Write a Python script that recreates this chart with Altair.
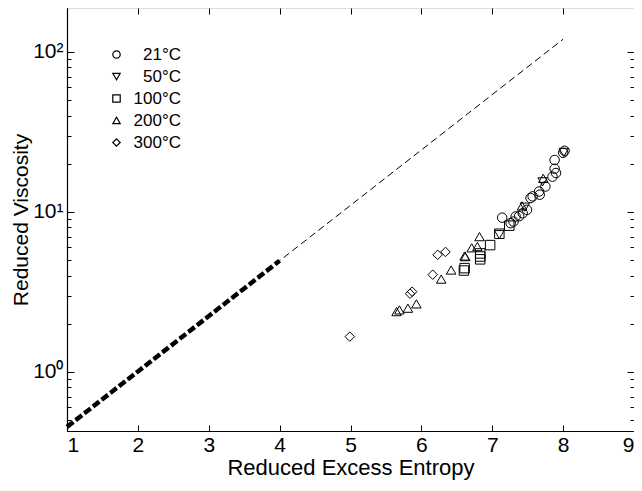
import altair as alt
import pandas as pd

# ---- data ----
c21_x = [7.14, 7.26, 7.30, 7.33, 7.38, 7.43, 7.49, 7.54, 7.57, 7.66, 7.67, 7.75, 7.85, 7.88, 7.90, 7.88, 8.00, 8.02]
c21_y = [9.2, 8.5, 8.7, 9.36, 9.4, 9.8, 10.3, 12.2, 12.5, 13.4, 12.8, 14.4, 16.6, 18.6, 17.5, 21.1, 23.4, 24.1]

c50_x = [7.10, 7.46, 7.71, 8.01]
c50_y = [7.2, 10.7, 15.4, 23.5]

c100_x = [6.60, 6.61, 6.83, 6.83, 6.83, 6.97, 7.10, 7.24]
c100_y = [4.3, 4.45, 5.05, 5.26, 5.5, 6.2, 7.3, 8.2]

c200_x = [5.65, 5.69, 5.81, 5.93, 6.28, 6.42, 6.61, 6.62, 6.71, 6.79, 6.82, 7.42, 7.72]
c200_y = [2.38, 2.44, 2.5, 2.66, 3.8, 4.33, 5.3, 5.25, 5.96, 6.07, 7.0, 10.9, 16.2]

c300_x = [4.99, 5.84, 5.87, 6.16, 6.23, 6.34]
c300_y = [1.66, 3.08, 3.17, 4.05, 5.39, 5.62]

series_names = ["21\u00b0C", "50\u00b0C", "100\u00b0C", "200\u00b0C", "300\u00b0C"]
series_shapes = ["circle", "triangle-down", "square", "triangle-up", "diamond"]

fit_x = [1, 8]
fit_y = [0.453, 120]
thick_x = [1, 4]
thick_y = [0.453, 4.95]

x_ticks = [1, 2, 3, 4, 5, 6, 7, 8, 9]
y_major = [1, 10, 100]
y_minor = [0.5, 0.6, 0.7, 0.8, 0.9, 2, 3, 4, 5, 6, 7, 8, 9, 20, 30, 40, 50, 60, 70, 80, 90]

# ---- tables ----
rows = []
for name, xs, ys in zip(series_names, [c21_x, c50_x, c100_x, c200_x, c300_x],
                        [c21_y, c50_y, c100_y, c200_y, c300_y]):
    for a, b in zip(xs, ys):
        rows.append({"x": a, "y": b, "T": name})
pts = pd.DataFrame(rows)
fit = pd.DataFrame({"x": fit_x, "y": fit_y})
thick = pd.DataFrame({"x": thick_x, "y": thick_y})

W, H = 567, 423
FONT = "Liberation Sans"
xs_ = alt.Scale(domain=[1, 9], nice=False, zero=False)
ys_ = alt.Scale(type="log", domain=[0.427, 188], nice=False)

common = dict(grid=False, tickColor="black", tickWidth=1)

# layer 1: thin dashed line, main labelled axes
l1 = alt.Chart(fit).mark_line(color="black", strokeWidth=1, strokeDash=[7, 4]).encode(
    x=alt.X("x:Q", scale=xs_, axis=alt.Axis(
        orient="bottom", values=x_ticks, ticks=False, labelFontSize=21, labelFont=FONT,
        labelColor="black", labelPadding=3, domainColor="black", domainWidth=1.2,
        title="Reduced Excess Entropy", titleFont=FONT, titleFontSize=22,
        titleFontWeight="normal", titleColor="black", titlePadding=2, grid=False)),
    y=alt.Y("y:Q", scale=ys_, axis=alt.Axis(
        orient="left", values=y_major, ticks=False, labelFontSize=21, labelFont=FONT,
        labelColor="black", labelPadding=4, domainColor="black", domainWidth=1.2,
        labelExpr="datum.value == 1 ? '10\u2070' : datum.value == 10 ? '10\u00b9' : '10\u00b2'",
        title="Reduced Viscosity", titleFont=FONT, titleFontSize=21,
        titleFontWeight="normal", titleColor="black", titlePadding=1, grid=False)),
)

# layer 2: thick dashed segment; inward ticks on bottom and left
l2 = alt.Chart(thick).mark_line(color="black", strokeWidth=4.5, strokeDash=[8, 3], strokeCap="butt").encode(
    x=alt.X("x:Q", scale=xs_, axis=alt.Axis(
        orient="top", offset=-H, values=x_ticks, labels=False, domain=False,
        tickSize=6, title=None, **common)),
    y=alt.Y("y:Q", scale=ys_, axis=alt.Axis(
        orient="right", offset=-W, values=y_major, labels=False, domain=False,
        tickSize=7, title=None, **common)),
)

# layer 3: data points; inward ticks on top and right
l3 = alt.Chart(pts).mark_point(filled=False, color="black", strokeWidth=1, size=90, opacity=1).encode(
    x=alt.X("x:Q", scale=xs_, axis=alt.Axis(
        orient="bottom", offset=-H, values=x_ticks, labels=False, domain=False,
        tickSize=6, title=None, **common)),
    y=alt.Y("y:Q", scale=ys_, axis=alt.Axis(
        orient="left", offset=-W, values=y_major, labels=False, domain=False,
        tickSize=7, title=None, **common)),
    shape=alt.Shape("T:N", scale=alt.Scale(domain=series_names, range=series_shapes),
                    legend=alt.Legend(
                        orient="none", legendX=41, legendY=38, title=None,
                        labelFont=FONT, labelFontSize=17, labelColor="black",
                        labelAlign="right", labelOffset=56, labelLimit=200,
                        symbolSize=55, symbolStrokeColor="black",
                        symbolStrokeWidth=1.2, symbolFillColor="transparent",
                        rowPadding=4, padding=0)),
)

# layers 4/5: minor inward ticks on left and right
l4 = alt.Chart(fit).mark_line(strokeOpacity=0).encode(
    x=alt.X("x:Q", scale=xs_, axis=None),
    y=alt.Y("y:Q", scale=ys_, axis=alt.Axis(
        orient="right", offset=-W, values=y_minor, labels=False, domain=False,
        tickSize=4, title=None, **common)),
)
l5 = alt.Chart(fit).mark_line(strokeOpacity=0).encode(
    x=alt.X("x:Q", scale=xs_, axis=None),
    y=alt.Y("y:Q", scale=ys_, axis=alt.Axis(
        orient="left", offset=-W, values=y_minor, labels=False, domain=False,
        tickSize=4, title=None, **common)),
)

chart = alt.layer(l1, l2, l3, l4, l5).resolve_axis(x="independent", y="independent").properties(
    width=W, height=H,
    autosize=alt.AutoSizeParams(type="none"),
    padding={"left": 59, "top": 0, "right": 0, "bottom": 52},
).configure_view(stroke="black", strokeWidth=1.2).configure(font=FONT)

chart.save("out.html", embed_options={"renderer": "svg", "actions": False})
